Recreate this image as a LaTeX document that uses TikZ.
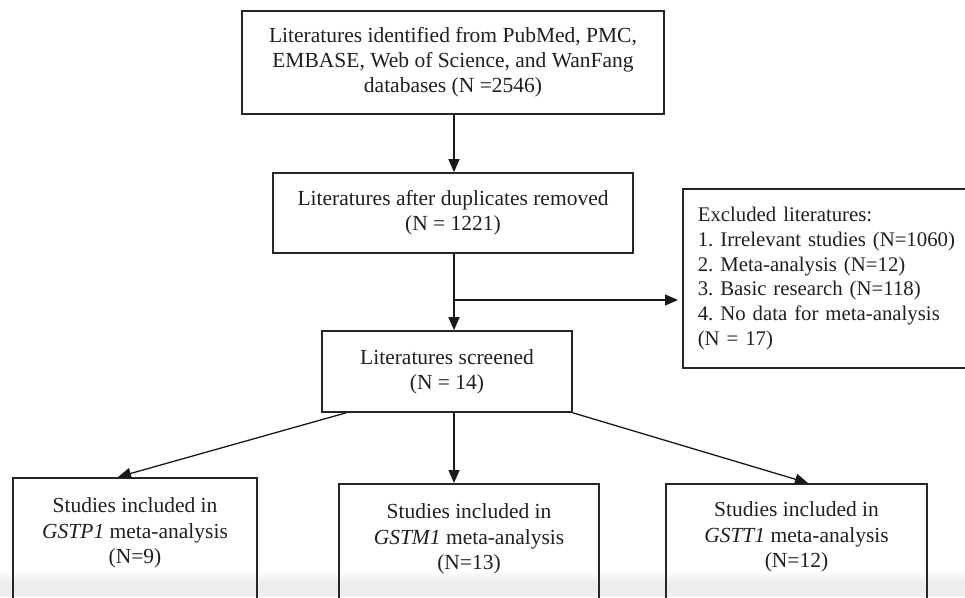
\documentclass[tikz,border=0pt]{standalone}
\usepackage{fontspec}
\setmainfont{Liberation Serif}
\usetikzlibrary{arrows.meta}

\begin{document}
\frenchspacing
\begin{tikzpicture}[x=1pt, y=-1pt,
  box/.style={draw=black!85, line width=1.6pt, inner sep=0pt},
  txt/.style={font=\fontsize{21.5}{24.8}\selectfont, align=center, inner sep=0pt, text=black!88},
  gene/.style={txt, font=\fontsize{21.5}{25.5}\selectfont},
  link/.style={draw=black!90, line width=1.3pt, -{Triangle[length=13pt,width=11pt]}},
]
\useasboundingbox (0,0) rectangle (965,597);
\clip (0,0) rectangle (965,597);

% light band along the lower edge
\shade[top color=white, bottom color=black!7] (0,570) rectangle (965,582);
\fill[black!7] (0,582) rectangle (965,597);

% main flow
\node[box, txt, minimum width=422pt, minimum height=103pt] (src) at (453,62.5)
  {Literatures identified from PubMed, PMC,\\EMBASE, Web of Science, and WanFang\\databases (N =2546)};
\node[box, txt, minimum width=360pt, minimum height=80pt] (dup) at (453,213)
  {Literatures after duplicates removed\\(N = 1221)};
\node[box, txt, minimum width=250pt, minimum height=81pt] (scr) at (447,371.5)
  {Literatures screened\\(N = 14)};

% exclusions
\node[box, txt, font=\fontsize{20.8}{24.8}\selectfont, anchor=west, align=left, inner xsep=15pt, text width=275pt, minimum height=179pt] (excl) at (682,278.5)
  {Excluded literatures:\\1. Irrelevant studies (N=1060)\\2. Meta-analysis (N=12)\\3. Basic research (N=118)\\4. No data for meta-analysis\\(N = 17)};

% per-gene boxes
\node[box, anchor=north, minimum width=244pt, minimum height=150pt] (gstp) at (135,477) {};
\node[gene] (gstpT) at (135,533) {Studies included in\\\textit{GSTP1} meta-analysis\\(N=9)};
\node[box, anchor=north, minimum width=260pt, minimum height=150pt] (gstm) at (469,483) {};
\node[gene] (gstmT) at (469,539) {Studies included in\\\textit{GSTM1} meta-analysis\\(N=13)};
\node[box, anchor=north, minimum width=261pt, minimum height=150pt] (gstt) at (796.5,483) {};
\node[gene] (gsttT) at (796.5,537) {Studies included in\\\textit{GSTT1} meta-analysis\\(N=12)};

% connectors
\coordinate (spine) at ([xshift=1pt]dup.south);
\coordinate (br) at (spine |- 0,300);
\draw[link] ([xshift=1pt]src.south) -- ([xshift=1pt]dup.north);
\draw[link] (spine) -- (spine |- scr.north);
\draw[link, shorten >=4pt] (br) -- (br -| excl.west);
\draw[link] ([xshift=25pt]scr.south west) -- ([xshift=-17pt]gstp.north);
\draw[link] (spine |- scr.south) -- (spine |- gstm.north);
\draw[link] (scr.south east) -- ([xshift=11.5pt]gstt.north);
\end{tikzpicture}
\end{document}
